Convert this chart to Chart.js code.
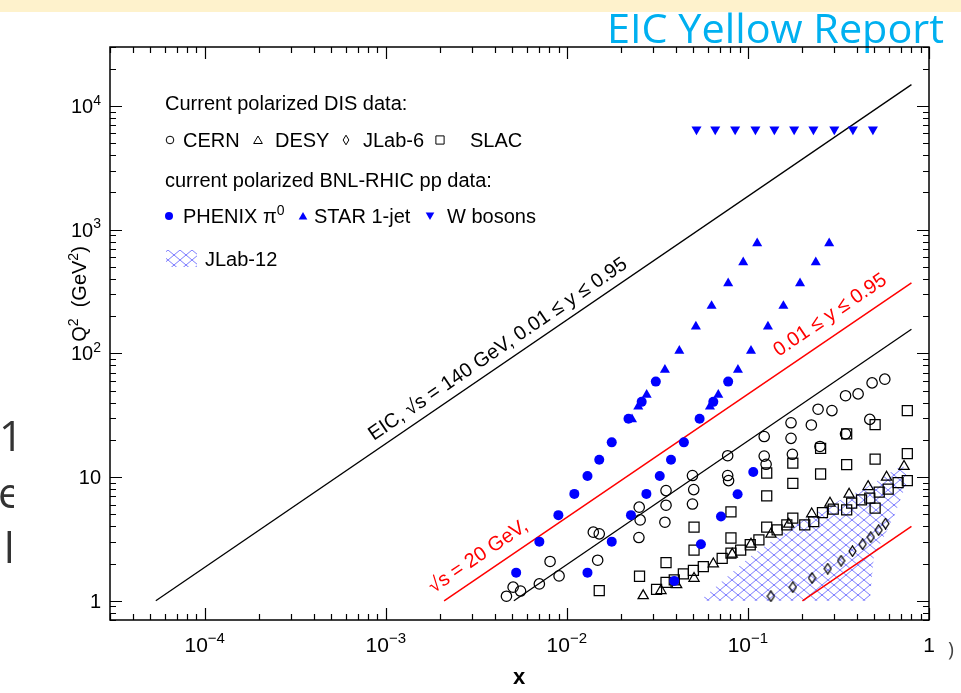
<!DOCTYPE html>
<html><head><meta charset="utf-8">
<script src="https://cdn.jsdelivr.net/npm/chart.js@4.4.1/dist/chart.umd.min.js"></script>
<style>html,body{margin:0;padding:0;background:#fff}#wrap{width:961px;height:693px}</style>
</head><body><div id="wrap"><canvas id="c" width="961" height="693"></canvas></div>
<script>
// [x, Q2] pairs
const cernPoints=[[4.64e-3,1.09],[5.05e-3,1.29],[5.55e-3,1.20],[7.05e-3,1.37],[8.08e-3,2.08],[9.06e-3,1.59],
  [0.0140,3.59],[0.0151,3.48],[0.0148,2.13],[0.0250,3.25],[0.0254,4.51],[0.0251,5.72],
  [0.0353,7.79],[0.0353,5.93],[0.0348,4.32],[0.0494,10.3],[0.0502,7.93],[0.0494,6.06],
  [0.0773,14.9],[0.0773,10.3],[0.0782,9.38],[0.123,21.3],[0.123,14.8],[0.126,12.7],
  [0.173,27.5],[0.173,20.6],[0.176,15.3],[0.224,26.4],[0.244,35.4],[0.250,17.7],[0.291,34.5],
  [0.346,45.5],[0.346,22.4],[0.406,47.1],[0.471,29.3],[0.485,57.8],[0.570,61.9]];
const desyPoints=[[0.0264,1.10],[0.0331,1.21],[0.0404,1.35],[0.0504,1.52],[0.0644,1.99],[0.0819,2.38],
  [0.104,2.87],[0.134,3.46],[0.168,4.17],[0.225,5.05],[0.284,6.16],[0.362,7.28],[0.461,8.39],[0.583,9.99],[0.728,12.2]];
const jlab6Points=[[0.134,1.09],[0.177,1.29],[0.226,1.53],[0.276,1.82],[0.327,2.11],[0.378,2.52],
  [0.430,2.87],[0.477,3.27],[0.527,3.73],[0.575,4.21]];
const slacPoints=[[0.0151,1.21],[0.0252,1.58],[0.0313,1.24],[0.0353,1.41],[0.0353,2.04],[0.0392,1.48],[0.0440,1.65],[0.0500,1.76],
  [0.0567,1.89],[0.0721,2.20],[0.0806,2.43],[0.0912,2.57],[0.103,2.84],[0.115,3.11],[0.127,3.95],[0.145,3.75],[0.164,4.11],
  [0.177,4.66],[0.206,4.11],[0.231,4.37],[0.258,5.17],[0.296,5.51],[0.351,5.44],[0.374,6.16],[0.424,6.55],[0.471,6.76],
  [0.504,5.61],[0.531,7.56],[0.595,7.99],[0.675,9.04],[0.759,9.38],
  [0.0504,3.95],[0.0504,2.57],[0.0806,5.24],[0.0806,3.22],[0.127,10.8],[0.127,7.06],[0.177,13.0],[0.177,8.90],
  [0.252,17.1],[0.252,10.6],[0.351,22.4],[0.351,12.6],[0.504,26.6],[0.504,14.0],[0.759,34.5],[0.759,15.5]];
const phenixPoints=[[5.25e-3,1.69],[7.05e-3,3.01],[8.98e-3,4.93],[0.0110,7.32],[0.0130,10.2],[0.0151,13.8],[0.0177,19.1],[0.0219,29.6],[0.0259,40.6],[0.0310,59.2],
  [0.0130,1.69],[0.0177,3.01],[0.0226,4.93],[0.0275,7.32],[0.0326,10.2],[0.0376,13.8],[0.0443,19.1],[0.0541,29.6],[0.0644,40.6],[0.0778,59.2],
  [0.0392,1.45],[0.0550,2.87],[0.0710,4.80],[0.0877,7.28],[0.107,11.0]];
const starPoints=[[0.0229,29.3],[0.0248,37.2],[0.0276,46.2],[0.0348,73.6],[0.0418,105],[0.0516,165],[0.0630,242],[0.0778,369],[0.0942,546],[0.1125,777],
  [0.0617,37.2],[0.0686,46.2],[0.0881,73.6],[0.104,105],[0.129,165],[0.157,242],[0.194,369],[0.237,546],[0.281,777]];
const wBosonPoints=[[0.052,6460],[0.066,6460],[0.085,6460],[0.11,6460],[0.14,6460],[0.18,6460],[0.23,6460],[0.30,6460],[0.38,6460],[0.49,6460]];
const jlab12Region=[[0.0543,1.0],[0.1026,2.27],[0.1705,3.89],[0.273,5.75],[0.454,8.34],[0.717,12.6],[0.764,9.5],[0.639,4.77],[0.496,2.27],[0.471,1.0],[0.0543,1.0]];
// kinematic limits
const eicHigh=[[5.37e-5,1],[0.80,14900]];
const eicLow=[[5.1e-3,1],[0.80,157]];
const fixedHigh=[[2.1e-3,1],[0.80,372]];
const fixedLow=[[0.20,1],[0.80,4.0]];
// axis ticks
const xTickValues=[1e-4,1e-3,1e-2,1e-1,1];
const xTickLabels=[['10','−4'],['10','−3'],['10','−2'],['10','−1'],['1','']];
const yTickValues=[1,10,100,1000,10000];
const yTickLabels=[['1',''],['10',''],['10','2'],['10','3'],['10','4']];

const F='"Liberation Sans", Arial, Helvetica, sans-serif';
const BLUE='#0000ff';
const pts=a=>a.map(([x,y])=>({x,y}));
const cv=document.getElementById('c');
const ctx=cv.getContext('2d');

const tile=document.createElement('canvas');tile.width=12;tile.height=10;
(g=>{g.strokeStyle='rgba(50,50,255,0.85)';g.lineWidth=0.75;g.beginPath();g.moveTo(0,0);g.lineTo(12,10);g.moveTo(0,10);g.lineTo(12,0);g.stroke();})(tile.getContext('2d'));
const hatch=ctx.createPattern(tile,'repeat');

const dia=document.createElement('canvas');dia.width=9;dia.height=12;
(g=>{g.strokeStyle='#000';g.lineWidth=1.2;g.beginPath();g.moveTo(4.5,0.8);g.lineTo(8,6);g.lineTo(4.5,11.2);g.lineTo(1,6);g.closePath();g.stroke();})(dia.getContext('2d'));

function rich(c,parts,x,y,size,align){
  const ss=Math.round(size*0.7);let w=0;
  const m=parts.map(([t,s])=>{c.font=(s?ss:size)+'px '+F;const d=c.measureText(t).width;w+=d;return d;});
  let cx=align==='center'?x-w/2:align==='right'?x-w:x;
  c.textAlign='left';
  parts.forEach(([t,s],i)=>{if(!t)return;c.font=(s?ss:size)+'px '+F;c.fillText(t,cx,s?y-size*0.42:y);cx+=m[i];});
}
function mark(c,st,x,y,r,fill){
  c.beginPath();
  if(st==='circle')c.arc(x,y,r,0,Math.PI*2);
  else if(st==='tri'){c.moveTo(x,y-r);c.lineTo(x+r*0.866,y+r/2);c.lineTo(x-r*0.866,y+r/2);c.closePath();}
  else if(st==='tdown'){c.moveTo(x,y+r);c.lineTo(x+r*0.866,y-r/2);c.lineTo(x-r*0.866,y-r/2);c.closePath();}
  else if(st==='rect')c.rect(x-r,y-r,2*r,2*r);
  else if(st==='dia'){c.moveTo(x,y-r);c.lineTo(x+r*0.6,y);c.lineTo(x,y+r);c.lineTo(x-r*0.6,y);c.closePath();}
  if(fill){c.fillStyle=fill;c.fill();}else{c.strokeStyle='#000';c.lineWidth=1;c.stroke();}
}

const lineLabels=[
  {text:'EIC, √s = 140 GeV, 0.01 ≤ y ≤ 0.95',at:[4.33e-3,99],line:eicHigh,color:'#000'},
  {text:'√s = 20 GeV,',at:[3.38e-3,2.1],line:fixedHigh,color:'#f00'},
  {text:'0.01 ≤ y ≤ 0.95',at:[0.296,187],line:fixedHigh,color:'#f00'}];

const decor={id:'decor',
  beforeDraw(ch){
    const c=ch.ctx;c.save();
    c.fillStyle='#fff';c.fillRect(0,0,ch.width,ch.height);
    c.fillStyle='#fef2cc';c.fillRect(0,0,ch.width,12);
    c.font='41px "Open Sans", sans-serif';const w=c.measureText('EIC Yellow Report').width;
    c.translate(607,43);c.scale(337/w,1);c.fillStyle='#00b0f0';c.textBaseline='alphabetic';c.fillText('EIC Yellow Report',0,0);
    c.restore();
    c.save();c.beginPath();c.rect(0,400,14,180);c.clip();
    c.fillStyle='#333';c.font='42px "Open Sans", sans-serif';
    c.fillText('10',-1,451);c.fillText('e',-2,508);c.fillText('lu',4,563);
    c.restore();
    c.save();c.fillStyle='#444';c.font='20px "Open Sans", sans-serif';c.fillText(')',948,656);c.restore();
  },
  afterDraw(ch){
    const c=ch.ctx,a=ch.chartArea,sx=ch.scales.x,sy=ch.scales.y;
    c.save();
    // line labels
    lineLabels.forEach(L=>{
      const x1=sx.getPixelForValue(L.line[0][0]),y1=sy.getPixelForValue(L.line[0][1]);
      const x2=sx.getPixelForValue(L.line[1][0]),y2=sy.getPixelForValue(L.line[1][1]);
      c.save();c.translate(sx.getPixelForValue(L.at[0]),sy.getPixelForValue(L.at[1]));
      c.rotate(Math.atan2(y2-y1,x2-x1));c.fillStyle=L.color;c.font='20px '+F;c.textAlign='center';
      c.fillText(L.text,0,0);c.restore();
    });
    // frame + inward ticks
    c.strokeStyle='#000';c.lineWidth=1.5;c.strokeRect(a.left,a.top,a.right-a.left,a.bottom-a.top);
    c.lineWidth=1.2;c.beginPath();
    for(let d=-5;d<=0;d++)for(let m=1;m<10;m++){const v=m*Math.pow(10,d);if(v<sx.min||v>sx.max)continue;
      const p=Math.round(sx.getPixelForValue(v))+0.5,l=m===1?12:6;
      c.moveTo(p,a.bottom);c.lineTo(p,a.bottom-l);c.moveTo(p,a.top);c.lineTo(p,a.top+l);}
    for(let d=-1;d<=4;d++)for(let m=1;m<10;m++){const v=m*Math.pow(10,d);if(v<sy.min||v>sy.max)continue;
      const p=Math.round(sy.getPixelForValue(v))+0.5,l=m===1?12:6;
      c.moveTo(a.left,p);c.lineTo(a.left+l,p);c.moveTo(a.right,p);c.lineTo(a.right-l,p);}
    c.stroke();
    c.fillStyle='#000';c.textBaseline='alphabetic';
    xTickValues.forEach((v,i)=>rich(c,[[xTickLabels[i][0]],[xTickLabels[i][1],1]],sx.getPixelForValue(v),652,21,'center'));
    yTickValues.forEach((v,i)=>rich(c,[[yTickLabels[i][0]],[yTickLabels[i][1],1]],101,sy.getPixelForValue(v)+7,20,'right'));
    c.font='bold 22px '+F;c.textAlign='center';c.fillText('x',519,684);
    c.save();c.translate(86,294);c.rotate(-Math.PI/2);rich(c,[['Q'],['2',1],['  (GeV'],['2',1],[')']],0,0,20,'center');c.restore();
    // legend
    c.fillStyle='#000';
    rich(c,[['Current polarized DIS data:']],165,110,20,'left');
    mark(c,'circle',170,140,3.8);mark(c,'tri',258,141,5);mark(c,'dia',346,140,4.8);mark(c,'rect',440,140,4.1);
    c.fillStyle='#000';
    rich(c,[['CERN']],183,147,20,'left');rich(c,[['DESY']],275,147,20,'left');
    rich(c,[['JLab-6']],363,147,20,'left');rich(c,[['SLAC']],470,147,20,'left');
    rich(c,[['current polarized BNL-RHIC pp data:']],165,187,20,'left');
    mark(c,'circle',169,216,4,BLUE);mark(c,'tri',303,217,5,BLUE);mark(c,'tdown',430,215,5,BLUE);
    c.fillStyle='#000';
    rich(c,[['PHENIX '],['π'],['0',1]],183,223,20,'left');
    rich(c,[['STAR 1-jet']],314,223,20,'left');rich(c,[['W bosons']],447,223,20,'left');
    c.fillStyle=hatch;c.fillRect(166,250,31,17);
    c.fillStyle='#000';rich(c,[['JLab-12']],205,266,20,'left');
    c.restore();
  }};

const open=(label,data,style,r,extra)=>Object.assign({label,data:pts(data),pointStyle:style,pointRadius:r,
  backgroundColor:'rgba(0,0,0,0)',borderColor:'#000',borderWidth:1.25},extra||{});
const filled=(label,data,style,r,extra)=>Object.assign({label,data:pts(data),pointStyle:style,pointRadius:r,
  backgroundColor:BLUE,borderColor:BLUE,borderWidth:0},extra||{});
const line=(label,data,color,w)=>({label,data:pts(data),showLine:true,pointRadius:0,borderColor:color,borderWidth:w,fill:false});

new Chart(ctx,{type:'scatter',
  data:{datasets:[
    filled('PHENIX π0',phenixPoints,'circle',5.0),
    filled('STAR 1-jet',starPoints,'triangle',5.8),
    filled('W bosons',wBosonPoints,'triangle',5.8,{pointRotation:180}),
    open('CERN',cernPoints,'circle',5.2),
    open('DESY',desyPoints,'triangle',5.9),
    open('JLab-6',jlab6Points,dia,5),
    open('SLAC',slacPoints,'rect',7.1),
    line('EIC high y',eicHigh,'#000',1.3),
    line('EIC low y',eicLow,'#000',1.3),
    line('fixed target high y',fixedHigh,'#f00',1.5),
    line('fixed target low y',fixedLow,'#f00',1.5),
    {label:'JLab-12',data:pts(jlab12Region),showLine:true,pointRadius:0,borderColor:'rgba(0,0,0,0)',borderWidth:0,
      backgroundColor:hatch,fill:'shape'}
  ]},
  options:{responsive:false,animation:false,events:[],
    layout:{padding:{left:110,top:47,right:32,bottom:73}},
    plugins:{legend:{display:false},tooltip:{enabled:false}},
    scales:{x:{type:'logarithmic',min:3e-5,max:1,display:false},
            y:{type:'logarithmic',min:0.7,max:3e4,display:false}}},
  plugins:[decor]});
</script></body></html>
